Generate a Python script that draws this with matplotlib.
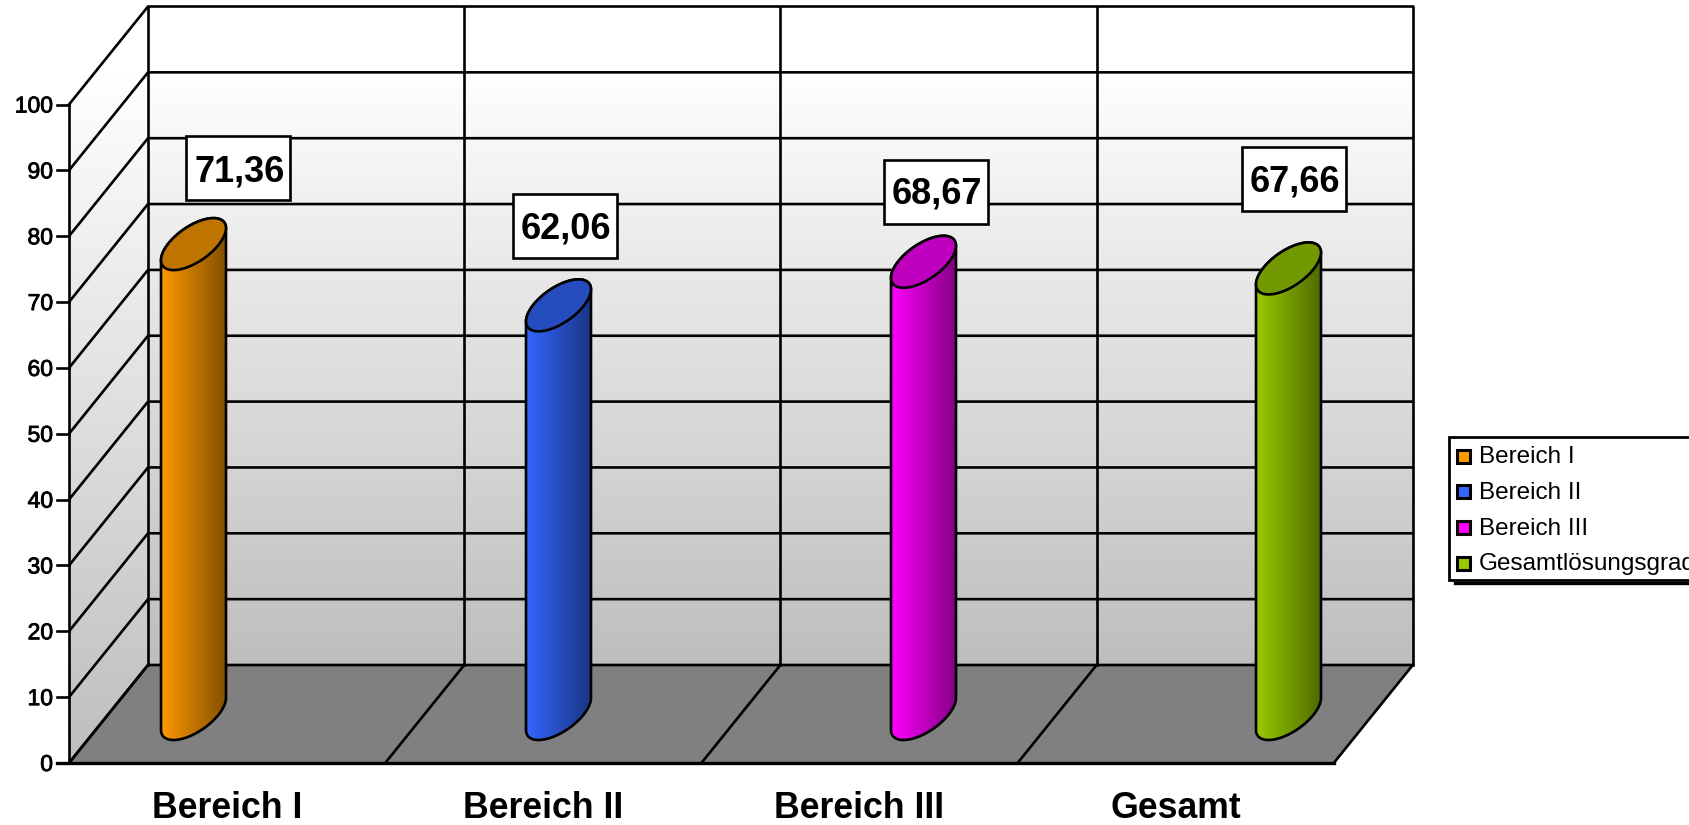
import numpy as np
import matplotlib
matplotlib.use('Agg')
import matplotlib.pyplot as plt
import matplotlib.patheffects as pe
from matplotlib.patches import Polygon, Rectangle
from matplotlib.colors import to_rgb

categories = ['Bereich I', 'Bereich II', 'Bereich III', 'Gesamt']
legend_names = ['Bereich I', 'Bereich II', 'Bereich III', 'Gesamtlösungsgrad']
values = [71.36, 62.06, 68.67, 67.66]
value_labels = ['71,36', '62,06', '68,67', '67,66']
colors = ['#FF9900', '#3366FF', '#FF00FF', '#99CC00']
yticks = list(range(0, 101, 10))

# pixel layout of the fake 3d box
X0, Y0 = 69, 763
DX, DY = 79, -98
UNIT = 6.585
COL = 316.2
BAR_X0, BAR_STEP = 193.5, 365
# box centre relative to bar top
LABEL_OFF = [(44.5, -76), (7, -79), (13, -70), (6, -89)]
TEXT_OFF = [(2, 4), (0, 2.5), (0, 2.5), (0, 2.5)]

LW = 1.9


def py(v, depth=0.0):
    return Y0 - v * UNIT + depth * DY


def px(col, depth=0.0):
    return X0 + col * COL + depth * DX


fig = plt.figure(figsize=(16.9, 8.25), dpi=100)
ax = fig.add_axes([0, 0, 1, 1])
ax.axis('off')
plt.rcParams['font.family'] = ['Liberation Sans', 'DejaVu Sans']


def gradient(img, extent, clip, z):
    im = ax.imshow(img, extent=extent, aspect='auto', interpolation='bilinear', zorder=z)
    im.set_clip_path(clip)


# walls
shade = np.interp(np.linspace(0, 1, 256), [0, 0.09, 1], [1.0, 1.0, 0.745])
vgrad = shade.reshape(-1, 1, 1).repeat(3, axis=2)
back = Polygon([(px(0, 1), py(100, 1)), (px(4, 1), py(100, 1)), (px(4, 1), py(0, 1)), (px(0, 1), py(0, 1))],
               closed=True, fc='none', ec='none', transform=ax.transData)
side = Polygon([(px(0), py(100)), (px(0, 1), py(100, 1)), (px(0, 1), py(0, 1)), (px(0), py(0))],
               closed=True, fc='none', ec='none', transform=ax.transData)
ax.add_patch(back)
ax.add_patch(side)
gradient(vgrad, (px(0, 1), px(4, 1), py(0, 1), py(100, 1)), back, 1)
gradient(vgrad, (px(0), px(0, 1), py(0), py(100, 1)), side, 1)

# floor
ax.add_patch(Polygon([(px(0), py(0)), (px(4), py(0)), (px(4, 1), py(0, 1)), (px(0, 1), py(0, 1))],
                     closed=True, fc='#808080', ec='none', zorder=1.5))

# grid lines
for v in yticks:
    ax.plot([px(0), px(0, 1), px(4, 1)], [py(v), py(v, 1), py(v, 1)], color='k', lw=LW, zorder=2)
    ax.plot([px(0) - 12, px(0)], [py(v), py(v)], color='k', lw=LW, zorder=2)
    ax.text(px(0) - 16, py(v) - 1, str(v), ha='right', va='center_baseline', fontsize=16.5, color='k',
            path_effects=[pe.withStroke(linewidth=0.6, foreground='k')])
for c in range(5):
    ax.plot([px(c, 1), px(c, 1)], [py(0, 1), py(100, 1)], color='k', lw=LW, zorder=2)
    ax.plot([px(c), px(c, 1)], [py(0), py(0, 1)], color='k', lw=LW, zorder=2)
ax.plot([px(0), px(0)], [py(0), py(100)], color='k', lw=LW, zorder=2)
ax.plot([px(0) - 12, px(4)], [py(0), py(0)], color='k', lw=2.4, zorder=2)

# cylinders
A, BX, BY = 25.6, 20, 26
t = np.linspace(0, 2 * np.pi, 181)


def ell(cx, cy, tt):
    return cx + A * np.cos(tt) + BX * np.sin(tt), cy - BY * np.sin(tt)


t_right = np.arctan2(BX, A)
t_left = t_right + np.pi

for i, v in enumerate(values):
    cx = BAR_X0 + i * BAR_STEP
    top = py(v, 0.5)
    base = py(0, 0.5)
    rgb = np.array(to_rgb(colors[i]))
    # body: top half arc goes behind, front arc of the base closes the shape
    tb = np.linspace(t_left, t_right + 2 * np.pi, 90)
    bx, by = ell(cx, base, tb)
    tx, ty = ell(cx, top, np.linspace(t_right, t_left, 90))
    verts = np.vstack([np.column_stack([bx, by]), np.column_stack([tx, ty])])
    body = Polygon(verts, closed=True, fc='none', ec='k', lw=LW, zorder=4)
    ax.add_patch(body)
    ramp = np.linspace(1.0, 0.52, 128).reshape(1, -1, 1) * rgb.reshape(1, 1, 3)
    half = np.hypot(A, BX)
    gradient(ramp, (cx - half, cx + half, base + BY, top - BY), body, 3)
    ex, ey = ell(cx, top, t)
    ax.add_patch(Polygon(np.column_stack([ex, ey]), closed=True, fc=rgb * 0.75, ec='k', lw=LW, zorder=5))

    ox, oy = LABEL_OFF[i]
    bw, bh = 104, 64
    ax.add_patch(Rectangle((cx + ox - bw / 2, top + oy - bh / 2), bw, bh, fc='white', ec='k', lw=LW, zorder=6))
    ax.text(cx + ox + TEXT_OFF[i][0], top + oy + TEXT_OFF[i][1], value_labels[i], ha='center', va='center',
            fontsize=26, fontweight='bold', color='k', zorder=7)

# category labels
for i, name in enumerate(categories):
    ax.text(px(i + 0.5), 809, name, ha='center', va='center', fontsize=25.7, fontweight='bold', color='k')

# legend runs off the right side, same as the original
ax.plot([1455, 1695], [583, 583], color='k', lw=2.4, zorder=8)
ax.add_patch(Rectangle((1449, 437), 300, 143, fc='white', ec='k', lw=2.0, zorder=9))
for i, name in enumerate(legend_names):
    ly = 456 + i * 35.8
    ax.add_patch(Rectangle((1457.5, ly - 6.5), 13, 13, fc=colors[i], ec='k', lw=2.2, zorder=10))
    ax.text(1479, ly + 1, name, ha='left', va='center', fontsize=17.5, color='k', zorder=10)

ax.set_xlim(0, 1690)
ax.set_ylim(825, 0)
fig.savefig('out.png', dpi=100, facecolor='white')
